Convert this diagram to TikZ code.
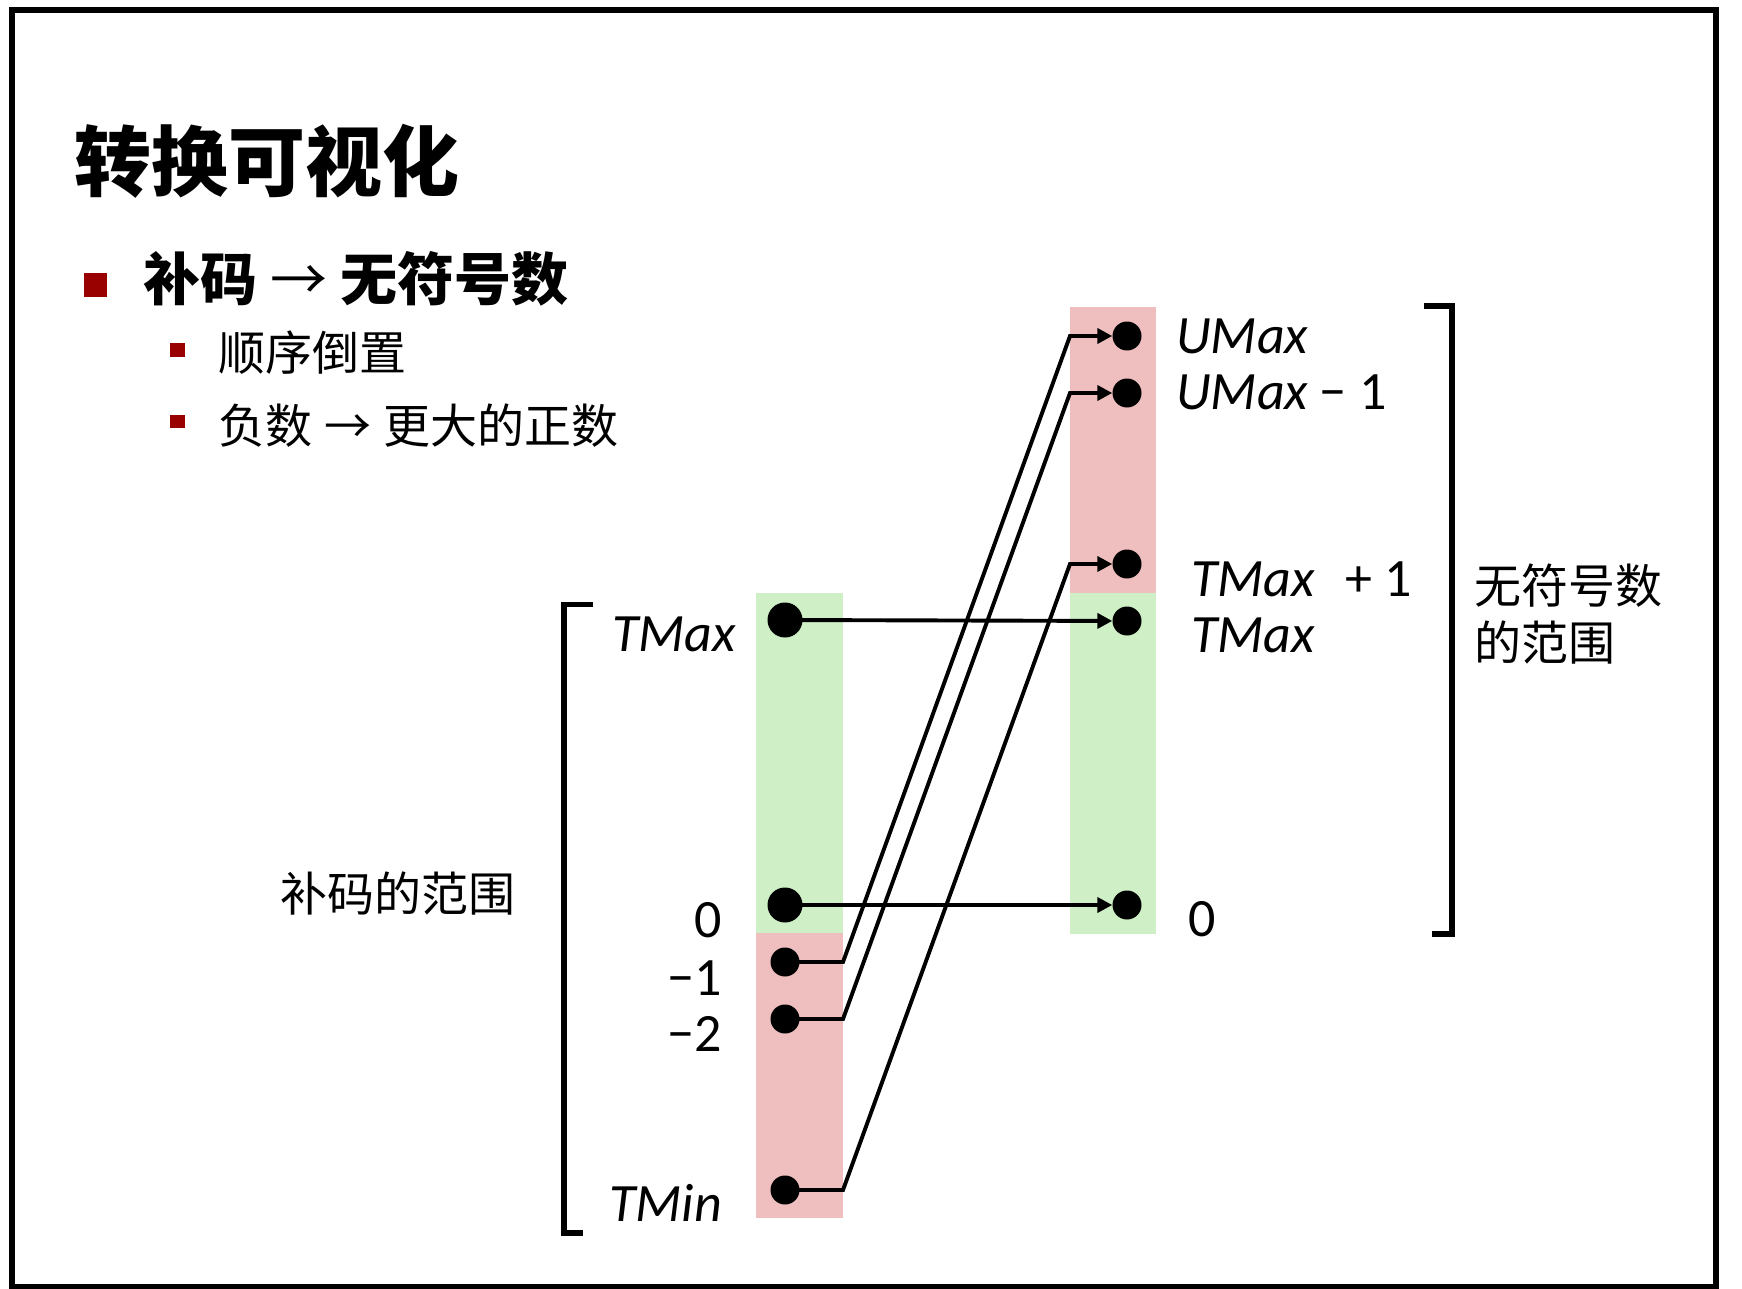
\documentclass[tikz,border=0pt]{standalone}
\usepackage{fontspec}
\setmainfont{Carlito}
\newfontfamily\cjk{Noto Sans CJK SC}
\usetikzlibrary{arrows.meta}
\definecolor{pinkc}{RGB}{239,191,191}
\definecolor{greenc}{RGB}{207,240,199}
\definecolor{bred}{RGB}{153,0,0}
\begin{document}
\begin{tikzpicture}[x=1pt,y=-1pt,
  lab/.style={font=\fontsize{54}{60}\selectfont, inner sep=0pt},
  cjkl/.style={font=\cjk\fontsize{47}{56}\selectfont, inner sep=0pt},
  bigdot/.style={circle, fill=black, minimum size=35pt, inner sep=0pt},
  smalldot/.style={circle, fill=black, minimum size=29pt, inner sep=0pt},
  conn/.style={line width=3.9pt},
  arr/.style={conn, -{Triangle[length=15pt,width=15pt]}},
  brk/.style={line width=5.5pt}]
\useasboundingbox (0,0) rectangle (1742,1289);
\fill[white] (0,0) rectangle (1742,1289);
\draw[line width=6pt] (12,10.5) rectangle (1716,1287);

% title and bullets
\node[anchor=base west, inner sep=0pt, font=\cjk\bfseries\fontsize{77}{88}\selectfont] (title) at (74,191) {转换可视化};
\fill[bred] (84,273) rectangle (107,297);
\node[anchor=base west, inner sep=0pt, font=\cjk\fontsize{57}{64}\selectfont] (b1) at (143,301)
  {{\bfseries 补码}\hspace{13pt}→\hspace{13pt}{\bfseries 无符号数}};
\fill[bred] (170,343) rectangle (185,357);
\node[anchor=base west, cjkl] (s1) at (218,370) {顺序倒置};
\fill[bred] (170,415) rectangle (185,428);
\node[anchor=base west, cjkl] (s2) at (218,443)
  {负数\hspace{12pt}→\hspace{12pt}更大的正数};

% columns
\fill[greenc] (756,593) rectangle (843,933);
\fill[pinkc]  (756,933) rectangle (843,1218);
\fill[pinkc]  (1070,307) rectangle (1156,593);
\fill[greenc] (1070,593) rectangle (1156,934);
\coordinate (lcolR) at (843,0);
\coordinate (rcolL) at (1070,0);

% brackets
\draw[brk] (593,604.5) -- (564,604.5) -- (564,1233) -- (583,1233);
\draw[brk] (1424,306) -- (1452,306) -- (1452,934) -- (1432,934);

% dots
\node[bigdot]   (lTMax) at (785,620) {};
\node[bigdot]   (lZero) at (785,905) {};
\node[smalldot] (lM1)   at (785,962) {};
\node[smalldot] (lM2)   at (785,1019) {};
\node[smalldot] (lTMin) at (785,1190) {};
\node[smalldot] (rUMax)  at (1127,336) {};
\node[smalldot] (rUMax1) at (1127,393) {};
\node[smalldot] (rTMax1) at (1127,564) {};
\node[smalldot] (rTMax)  at (1127,621) {};
\node[smalldot] (rZero)  at (1127,905) {};

% connectors
\draw[arr] (lTMax.center) -- (rTMax);
\draw[arr] (lZero.center) -- (rZero);
\draw[arr] (lM1.center) -- (lM1.center -| lcolR) -- (rUMax.center -| rcolL) -- (rUMax);
\draw[arr] (lM2.center) -- (lM2.center -| lcolR) -- (rUMax1.center -| rcolL) -- (rUMax1);
\draw[arr] (lTMin.center) -- (lTMin.center -| lcolR) -- (rTMax1.center -| rcolL) -- (rTMax1);

% left labels
\node[lab, anchor=base west] (tTMax) at (612,651) {\itshape TMax};
\node[lab, anchor=base east] (tZero) at (722,937) {0};
\node[lab, anchor=base east] (tM1) at (722,995) {−1};
\node[lab, anchor=base east] (tM2) at (722,1051) {−2};
\node[lab, anchor=base east] (tTMin) at (722,1221) {\itshape TMin};
\node[cjkl, anchor=base west] (tcomp) at (280,911) {补码的范围};

% right labels
\node[lab, anchor=base west] (tUMax) at (1176,353) {\itshape UMax};
\node[lab, anchor=base west] (tUMax1) at (1176,409) {\textit{UMax}\hspace{11pt}−\hspace{13pt}1};
\node[lab, anchor=base west] (tTMax1) at (1191,596) {\textit{TMax}\hspace{30pt}+\hspace{12pt}1};
\node[lab, anchor=base west] (tTMaxR) at (1191,652) {\itshape TMax};
\node[lab, anchor=base west] (tZeroR) at (1188,936) {0};
\node[cjkl, anchor=base west] (tuns) at (1474,603) {无符号数};
\node[cjkl, anchor=base west] (tuns2) at (1474,660) {的范围};
\end{tikzpicture}
\end{document}
